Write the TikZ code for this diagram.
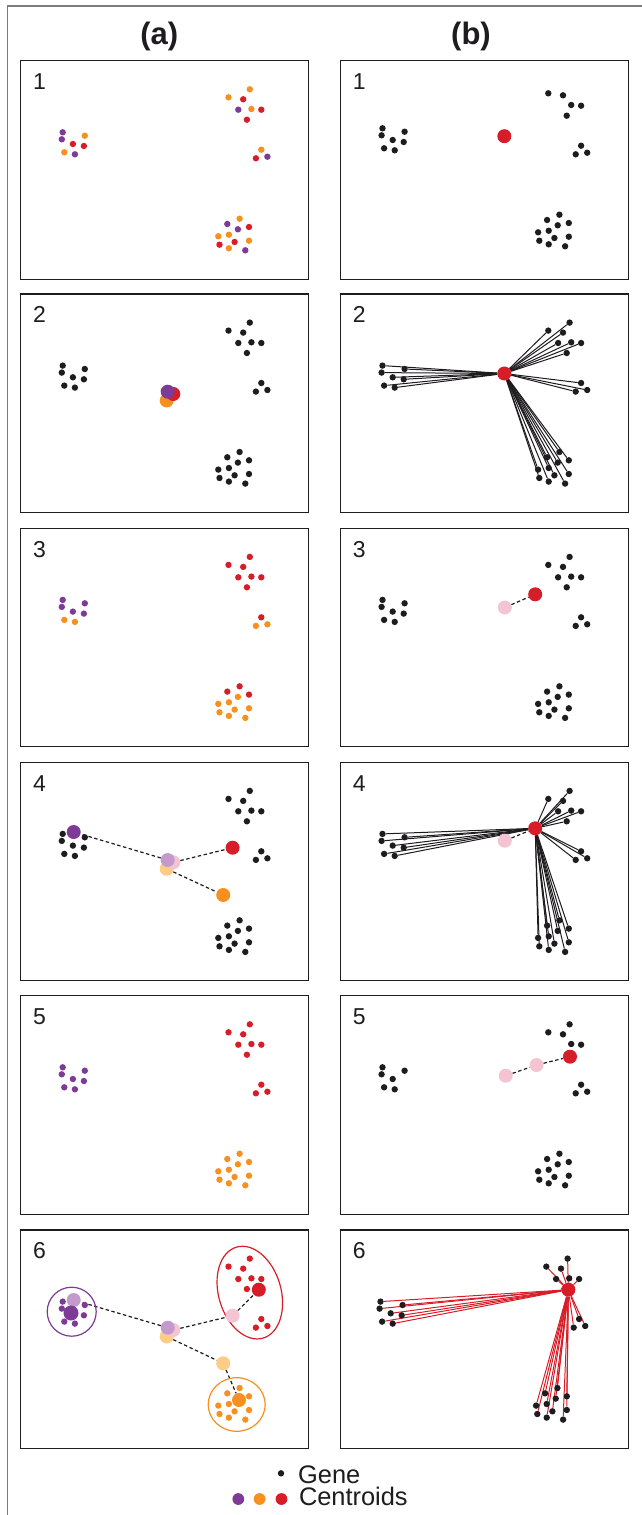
\documentclass[tikz,border=0pt]{standalone}
\usepackage{fontspec}
\setmainfont{Liberation Sans}
\usetikzlibrary{shapes.geometric}
\pgfdeclarelayer{bg}
\pgfsetlayers{bg,main}

\definecolor{cP}{RGB}{125,58,150}
\definecolor{cO}{RGB}{247,144,30}
\definecolor{cR}{RGB}{215,30,40}
\definecolor{lP}{RGB}{196,153,204}
\definecolor{lR}{RGB}{245,196,210}
\definecolor{lO}{RGB}{253,204,133}
\definecolor{gk}{RGB}{30,28,30}
\definecolor{framegrey}{RGB}{125,125,125}

\tikzset{
  gene/.style={circle, inner sep=0pt, minimum size=6.4pt, draw=none},
  cent/.style={circle, inner sep=0pt, minimum size=14pt, draw=none},
  panelbox/.style={draw=gk, line width=1.3pt, inner sep=0pt, minimum width=288.3pt, minimum height=218.5pt},
  num/.style={font=\fontsize{23}{28}\selectfont, inner sep=0pt, anchor=base, text=gk},
  head/.style={font=\bfseries\fontsize{31}{36}\selectfont, inner sep=0pt, anchor=base, text=gk},
  legtext/.style={font=\fontsize{25.4}{30}\selectfont, inner sep=0pt, anchor=base west, text=gk},
  spoke/.style={line width=1pt},
  dashline/.style={dash pattern=on 3.5pt off 2.5pt, line width=1.2pt, gk},
  ring/.style={line width=1.2pt, inner sep=0pt, fill=none},
  framel/.style={framegrey, line width=1.2pt}
}

% name/x/y/colour row1/colour row3/final colour
\def\genelist{L1/42.2/71.6/cP/cP/cP,L2/41.3/78.6/cP/cP/cP,L3/64.3/75/cO/cP/cP,L4/52.4/83.3/cR/cP/cP,L5/63.4/85.3/cR/cP/cP,L6/43.8/91.6/cO/cO/cP,L7/54.4/93.6/cP/cO/cP,R1/229.3/28.6/cO/cR/cR,R2/208/36.6/cO/cR/cR,R3/222.7/38.6/cR/cR/cR,R4/217.8/49/cP/cR/cR,R5/230.9/48.3/cO/cR/cR,R6/240.8/49/cR/cR/cR,R7/226.4/59/cR/cR/cR,S1/240.8/89/cO/cR/cR,S2/235.4/97.6/cR/cO/cR,S3/246.9/96/cP/cO/cR,B1/219.1/158/cO/cR/cO,B2/206.8/163.3/cP/cR/cO,B3/217.4/168.6/cP/cO/cO,B4/228.5/166.3/cR/cR/cO,B5/197.8/175.6/cO/cO/cO,B6/208.4/174/cO/cO/cO,B7/214.1/181.3/cR/cO/cO,B8/228.5/180/cO/cO/cO,B9/199/184/cR/cO/cO,B10/208.4/187.6/cO/cO/cO,B11/224.8/189.6/cP/cO/cO}

\makeatletter
\newcommand\genes[3]{%
  \foreach \gn/\x/\y/\ca/\cb/\cf in \genelist {%
    \edef\gtmp{\noexpand\in@{,\gn,}{,#3,}}\gtmp
    \ifin@\else\node[gene,fill=#2] (#1\gn) at (\x,\y) {};\fi}}
\makeatother
\newcommand\spokes[3]{%
  \begin{pgfonlayer}{bg}
  \foreach \gn/\x/\y/\ca/\cb/\cf in \genelist {\draw[spoke,#3] (#2) -- (#1\gn);}
  \end{pgfonlayer}}
\newcommand\panel[4]{%
  \node[panelbox] (#1) at ({#2+144.15},{#3+109.25}) {};
  \node[num] (#1n) at ({#2+19},{#3+28.7}) {#4};}

\begin{document}
\begin{tikzpicture}[x=1pt,y=-1pt]
\useasboundingbox (0,0) rectangle (642,1515);
\draw[framel] (7.8,1515) -- (7.8,6) -- (642,6);
\node[head] (ha) at (159.2,44.3) {(a)};
\node[head] (hb) at (471,44.3) {(b)};

\panel{A1}{20.5}{60.7}{1}
\panel{B1}{340.3}{60.7}{1}
\panel{A2}{20.5}{294}{2}
\panel{B2}{340.3}{294}{2}
\panel{A3}{20.5}{528.3}{3}
\panel{B3}{340.3}{528.3}{3}
\panel{A4}{20.5}{762.3}{4}
\panel{B4}{340.3}{762.3}{4}
\panel{A5}{20.5}{995.7}{5}
\panel{B5}{340.3}{995.7}{5}
\panel{A6}{20.5}{1230}{6}
\panel{B6}{340.3}{1230}{6}

% ---------- row 1
\begin{scope}[shift={(20.5,60.7)}]
  \genes{a1}{\ca}{}
\end{scope}
\begin{scope}[shift={(340.3,56.7)}]
  \genes{b1}{gk}{R1,R4}
  \node[cent,fill=cR] (b1c) at (164,79.5) {};
\end{scope}

% ---------- row 2
\begin{scope}[shift={(20.5,294)}]
  \genes{a2}{gk}{}
  \node[cent,fill=cO] (a2cO) at (146.2,106.5) {};
  \node[cent,fill=cR] (a2cR) at (152.8,100) {};
  \node[cent,fill=cP] (a2cP) at (147.2,97.7) {};
\end{scope}
\begin{scope}[shift={(340.3,294)}]
  \genes{b2}{gk}{}
  \node[cent,fill=cR] (b2c) at (164,79.5) {};
  \spokes{b2}{b2c}{gk}
\end{scope}

% ---------- row 3
\begin{scope}[shift={(20.5,528.3)}]
  \genes{a3}{\cb}{}
\end{scope}
\begin{scope}[shift={(340.3,528.3)}]
  \genes{b3}{gk}{}
  \node[cent,fill=lR] (b3p) at (164.5,79.2) {};
  \node[cent,fill=cR] (b3c) at (194.9,66) {};
  \begin{pgfonlayer}{bg}\draw[dashline] (b3p) -- (b3c);\end{pgfonlayer}
\end{scope}

% ---------- row 4
\begin{scope}[shift={(20.5,762.3)}]
  \genes{a4}{gk}{}
  \node[cent,fill=lO] (a4fO) at (146.2,106.5) {};
  \node[cent,fill=lR] (a4fR) at (152.8,100) {};
  \node[cent,fill=lP] (a4fP) at (147.2,97.7) {};
  \node[cent,fill=cP] (a4cP) at (53.2,69.7) {};
  \node[cent,fill=cR] (a4cR) at (212.1,85.4) {};
  \node[cent,fill=cO] (a4cO) at (202.7,132.7) {};
  \begin{pgfonlayer}{bg}
    \draw[dashline] (a4fP) -- (a4cP);
    \draw[dashline] (a4fR) -- (a4cR);
    \draw[dashline] (a4fO) -- (a4cO);
  \end{pgfonlayer}
\end{scope}
\begin{scope}[shift={(340.3,762.3)}]
  \node[cent,fill=lR] (b4p) at (164.5,78.4) {};
  \genes{b4}{gk}{}
  \node[cent,fill=cR] (b4c) at (194.9,66) {};
  \spokes{b4}{b4c}{gk}
  \begin{pgfonlayer}{bg}\draw[dashline] (b4p) -- (b4c);\end{pgfonlayer}
\end{scope}

% ---------- row 5
\begin{scope}[shift={(20.5,995.7)}]
  \genes{a5}{\cf}{}
\end{scope}
\begin{scope}[shift={(340.3,995.7)}]
  \genes{b5}{gk}{R4,L5}
  \node[cent,fill=lR] (b5p1) at (165.4,80) {};
  \node[cent,fill=lR] (b5p2) at (196.2,69.3) {};
  \node[cent,fill=cR] (b5c) at (229.7,61) {};
  \begin{pgfonlayer}{bg}\draw[dashline] (b5p1) -- (b5p2) -- (b5c);\end{pgfonlayer}
\end{scope}

% ---------- row 6
\begin{scope}[shift={(20.5,1230)}]
  \node[ring,draw=cP,circle,minimum size=49pt] (rgP) at (51.2,81.7) {};
  \node[ring,draw=cR,ellipse,minimum width=62.4pt,minimum height=94.8pt,rotate=16.3] (rgR) at (229.3,62.6) {};
  \node[ring,draw=cO,ellipse,minimum width=57pt,minimum height=53.6pt] (rgO) at (216.2,174.5) {};
  \genes{a6}{\cf}{}
  \node[cent,fill=lO] (a6fO) at (146.2,106.5) {};
  \node[cent,fill=lR] (a6fR) at (152.8,100) {};
  \node[cent,fill=lP] (a6fP) at (147.2,97.7) {};
  \node[cent,fill=lP] (a6mP) at (53.2,70) {};
  \node[cent,fill=cP,minimum size=15pt] (a6cP) at (50.5,83) {};
  \node[cent,fill=lR] (a6mR) at (212.1,85.7) {};
  \node[cent,fill=cR] (a6cR) at (238.3,59.7) {};
  \node[cent,fill=lO] (a6mO) at (202.7,133.3) {};
  \node[cent,fill=cO] (a6cO) at (218.5,170) {};
  \begin{pgfonlayer}{bg}
    \draw[dashline] (a6fP) -- (a6mP);
    \draw[dashline] (a6fR) -- (a6mR) -- (a6cR);
    \draw[dashline] (a6fO) -- (a6mO) -- (a6cO);
  \end{pgfonlayer}
\end{scope}
\begin{scope}[shift={(338.3,1230)}]
  \genes{b6}{gk}{}
  \node[cent,fill=cR] (b6c) at (230.1,59.7) {};
  \spokes{b6}{b6c}{cR}
\end{scope}

% ---------- legend
\node[gene,fill=gk] (lgG) at (281,1473.3) {};
\node[legtext] (lgGt) at (298,1483.3) {Gene};
\node[cent,fill=cP,minimum size=11.8pt] (lgP) at (238.3,1499) {};
\node[cent,fill=cO,minimum size=11.8pt] (lgO) at (259.6,1499) {};
\node[cent,fill=cR,minimum size=11.8pt] (lgR) at (281.5,1499) {};
\node[legtext] (lgCt) at (298.8,1505.7) {Centroids};
\end{tikzpicture}
\end{document}
